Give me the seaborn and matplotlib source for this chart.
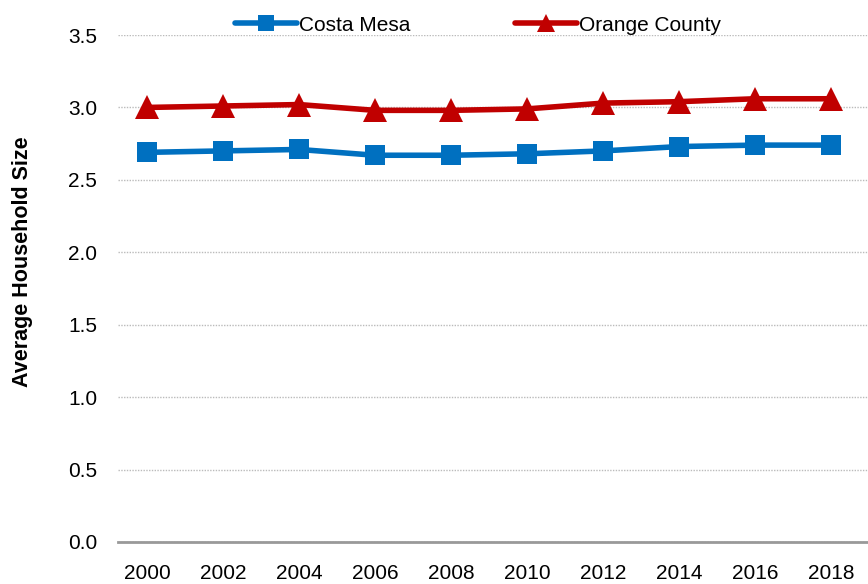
import matplotlib
matplotlib.use("Agg")
import matplotlib.pyplot as plt
import seaborn as sns
import pandas as pd

years = [2000, 2002, 2004, 2006, 2008, 2010, 2012, 2014, 2016, 2018]
costa_mesa = [2.69, 2.70, 2.71, 2.67, 2.67, 2.68, 2.70, 2.73, 2.74, 2.74]
orange_county = [3.00, 3.01, 3.02, 2.98, 2.98, 2.99, 3.03, 3.04, 3.06, 3.06]

df = pd.DataFrame({
    "year": years * 2,
    "size": costa_mesa + orange_county,
    "area": ["Costa Mesa"] * len(years) + ["Orange County"] * len(years),
})

sns.set_style("white")
plt.rcParams["font.family"] = ["Liberation Sans Narrow", "Liberation Sans", "DejaVu Sans"]
plt.rcParams["text.color"] = "black"
plt.rcParams["axes.labelcolor"] = "black"
plt.rcParams["xtick.color"] = "black"
plt.rcParams["ytick.color"] = "black"

fig = plt.figure(figsize=(8.68, 5.84), dpi=100)
ax = fig.add_axes([0.136, 0.072, 0.864, 0.868])

sns.lineplot(data=df[df["area"] == "Costa Mesa"], x="year", y="size",
             color="#0070C0", marker="s", linewidth=4, markersize=14,
             markeredgewidth=0, label="Costa Mesa", ax=ax)
sns.lineplot(data=df[df["area"] == "Orange County"], x="year", y="size",
             color="#C00000", marker="^", linewidth=4, markersize=17,
             markeredgewidth=0, label="Orange County", ax=ax)

ax.set_ylim(0, 3.5)
ax.set_yticks([0, 0.5, 1.0, 1.5, 2.0, 2.5, 3.0, 3.5])
ax.set_yticklabels([f"{v:.1f}" for v in ax.get_yticks()])
ax.set_xticks(years)
ax.set_xlim(1999.24, 2018.97)
ax.yaxis.grid(True, linestyle=(0, (1, 1)), color="#BBBBBB", linewidth=1)
ax.set_axisbelow(True)
for s in ["top", "right", "left"]:
    ax.spines[s].set_visible(False)
ax.spines["bottom"].set_color("#999999")
ax.spines["bottom"].set_linewidth(2)
ax.tick_params(axis="x", length=0, labelsize=15, pad=16)
ax.tick_params(axis="y", length=0, labelsize=15, pad=15)
ax.set_xlabel("")
ax.set_ylabel("Average Household Size", fontsize=15.5, fontweight="bold")
ax.yaxis.set_label_coords(-0.113, 0.552)

ax.legend(title=None, loc="upper center", bbox_to_anchor=(0.48, 1.075), ncol=2,
          frameon=False, fontsize=15, handlelength=3, handletextpad=0.1,
          columnspacing=5, markerscale=0.8)

fig.savefig("out.png", dpi=100)
